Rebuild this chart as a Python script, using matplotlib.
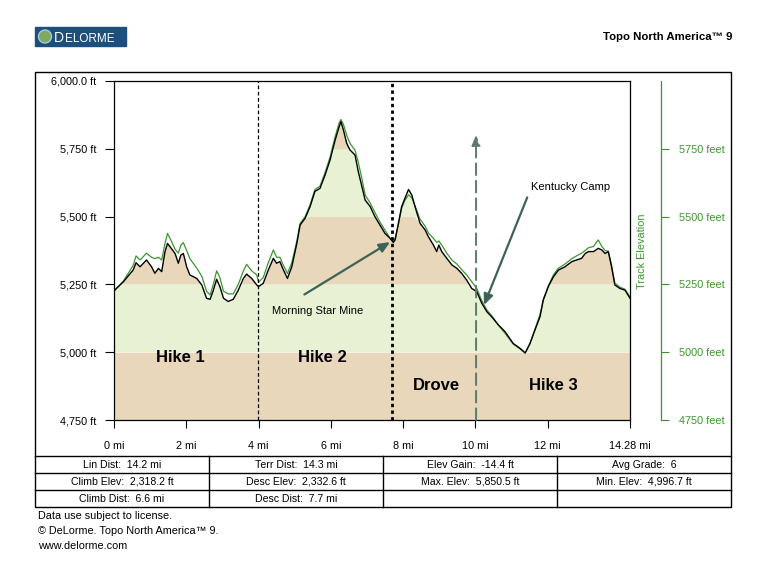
import numpy as np
import matplotlib
matplotlib.use("Agg")  # headless
import matplotlib.pyplot as plt
from matplotlib.patches import Rectangle, Circle

plt.rcParams['font.family'] = ['Liberation Sans', 'DejaVu Sans']

# Profile: distance (mi) and elevation (ft)
MILES = [0.00, 0.26, 0.53, 0.61, 0.72, 0.90, 1.04, 1.13, 1.23, 1.32, 1.41, 1.48, 1.55, 1.69,
         1.78, 1.85, 1.92, 2.01, 2.10, 2.29, 2.43, 2.56, 2.66, 2.75, 2.84, 2.93, 3.03, 3.16,
         3.30, 3.44, 3.58, 3.67, 3.81, 3.95, 4.00, 4.13, 4.27, 4.41, 4.50, 4.59, 4.69, 4.80,
         4.92, 5.06, 5.15, 5.29, 5.43, 5.56, 5.70, 5.84, 5.98, 6.12, 6.23, 6.28, 6.35, 6.44,
         6.53, 6.67, 6.76, 6.86, 6.95, 7.09, 7.22, 7.36, 7.50, 7.64, 7.73, 7.78, 7.87, 7.96,
         8.05, 8.15, 8.24, 8.33, 8.47, 8.61, 8.70, 8.84, 8.93, 8.99, 9.07, 9.21, 9.35, 9.49,
         9.62, 9.76, 9.90, 10.04, 10.18, 10.32, 10.45, 10.64, 10.82, 11.05, 11.24, 11.38, 11.51,
         11.65, 11.79, 11.88, 12.02, 12.16, 12.30, 12.48, 12.67, 12.80, 12.94, 13.04, 13.13,
         13.27, 13.40, 13.50, 13.59, 13.68, 13.77, 13.86, 14.00, 14.14, 14.28]

PROFILE_ELEV = [5226, 5260, 5303, 5330, 5315, 5340, 5315, 5291, 5309, 5297, 5370, 5401, 5389, 5364,
                5328, 5358, 5364, 5315, 5285, 5272, 5248, 5199, 5195, 5229, 5269, 5242, 5199, 5187,
                5195, 5229, 5272, 5288, 5272, 5248, 5242, 5254, 5303, 5346, 5328, 5334, 5303, 5272,
                5315, 5401, 5469, 5494, 5538, 5593, 5604, 5653, 5709, 5782, 5831, 5850, 5819, 5770,
                5746, 5727, 5666, 5611, 5561, 5537, 5500, 5469, 5438, 5420, 5405, 5414, 5475, 5537,
                5567, 5600, 5580, 5537, 5475, 5451, 5426, 5395, 5371, 5395, 5371, 5346, 5322, 5309,
                5291, 5266, 5235, 5223, 5180, 5149, 5131, 5100, 5076, 5032, 5014, 4997, 5032,
                5082, 5131, 5192, 5242, 5278, 5303, 5315, 5334, 5340, 5346, 5364, 5371,
                5371, 5383, 5377, 5364, 5371, 5315, 5248, 5235, 5229, 5199]

TRACK_ELEV = [5226, 5262, 5320, 5355, 5340, 5365, 5350, 5345, 5350, 5340, 5400, 5438, 5420, 5380,
              5365, 5395, 5404, 5375, 5345, 5310, 5280, 5225, 5211, 5250, 5300, 5275, 5225, 5215,
              5215, 5250, 5300, 5324, 5300, 5285, 5258, 5275, 5330, 5377, 5350, 5350, 5320, 5290,
              5330, 5410, 5475, 5500, 5545, 5600, 5612, 5662, 5720, 5795, 5845, 5858, 5840, 5800,
              5770, 5745, 5700, 5640, 5580, 5550, 5515, 5480, 5450, 5420, 5410, 5420, 5470, 5530,
              5560, 5580, 5570, 5540, 5490, 5465, 5440, 5420, 5405, 5410, 5395, 5365, 5340, 5325,
              5305, 5285, 5260, 5235, 5190, 5155, 5135, 5100, 5070, 5030, 5012, 4997, 5030,
              5085, 5140, 5195, 5245, 5285, 5310, 5325, 5345, 5355, 5365, 5375, 5385,
              5390, 5414, 5390, 5375, 5372, 5320, 5255, 5240, 5232, 5205]

BAND_EDGES = [4750, 5000, 5250, 5500, 5750, 6000]
LEFT_TICKS = [4750, 5000, 5250, 5500, 5750, 6000]
LEFT_LABELS = ["4,750 ft", "5,000 ft", "5,250 ft", "5,500 ft", "5,750 ft", "6,000.0 ft"]
RIGHT_TICKS = [4750, 5000, 5250, 5500, 5750]
X_TICKS = [0, 2, 4, 6, 8, 10, 12, 14.28]
X_LABELS = ["0 mi", "2 mi", "4 mi", "6 mi", "8 mi", "10 mi", "12 mi", "14.28 mi"]

# section markers (mi)
HIKE1_END = 3.99
HIKE2_END = 7.69
DROVE_END = 10.02

SECTIONS = [("Hike 1", 1.83, 4982), ("Hike 2", 5.76, 4982),
            ("Drove", 8.91, 4879), ("Hike 3", 12.15, 4879)]

STATS = [["Lin Dist:  14.2 mi", "Terr Dist:  14.3 mi", "Elev Gain:  -14.4 ft", "Avg Grade:  6"],
         ["Climb Elev:  2,318.2 ft", "Desc Elev:  2,332.6 ft", "Max. Elev:  5,850.5 ft", "Min. Elev:  4,996.7 ft"],
         ["Climb Dist:  6.6 mi", "Desc Dist:  7.7 mi", "", ""]]

TAN = "#e8d7bb"
PALE = "#e8f1d3"
GREEN = "#3c962e"
ARROW = "#3f6257"

W, H = 768, 572
fig = plt.figure(figsize=(W / 100, H / 100), dpi=100)

ax = fig.add_axes([114 / W, 152 / H, 516 / W, 339 / H])
x = np.array(MILES)
prof = np.array(PROFILE_ELEV)
for i in range(len(BAND_EDGES) - 1):
    lo, hi = BAND_EDGES[i], BAND_EDGES[i + 1]
    ax.fill_between(x, lo, np.minimum(prof, hi), where=prof > lo, interpolate=True,
                    color=TAN if i % 2 == 0 else PALE, lw=0, zorder=1)
ax.plot(MILES, TRACK_ELEV, color=GREEN, lw=0.9, zorder=3)
ax.plot(MILES, PROFILE_ELEV, color="black", lw=1.0, zorder=4)

ax.axvline(HIKE1_END, color="black", lw=0.9, ls=(0, (3, 2)), zorder=5)
ax.axvline(HIKE2_END, color="black", lw=2.0, ls=(0, (1.2, 1.2)), zorder=5)
ax.annotate("", xy=(DROVE_END, 5801), xytext=(DROVE_END, 4750),
            arrowprops=dict(arrowstyle="-|>,head_length=0.6,head_width=0.25", color="#5a7a6a",
                            lw=1.4, ls=(0, (6, 3)), shrinkA=0, shrinkB=0), zorder=5)

ax.annotate("Morning Star Mine", xy=(7.64, 5406), xytext=(4.37, 5152), fontsize=8,
            va="center", ha="left",
            arrowprops=dict(arrowstyle="-|>,head_length=0.8,head_width=0.35", color=ARROW,
                            lw=1.6, shrinkA=12, shrinkB=0, relpos=(0.15, 1.0)), zorder=6)
ax.annotate("Kentucky Camp", xy=(10.24, 5174), xytext=(11.54, 5609), fontsize=8,
            va="center", ha="left",
            arrowprops=dict(arrowstyle="-|>,head_length=0.8,head_width=0.35", color=ARROW,
                            lw=1.6, shrinkA=2, shrinkB=0, relpos=(0.0, 0.4)), zorder=6)

for name, sx, sy in SECTIONS:
    ax.text(sx, sy, name, fontsize=12, fontweight="bold", ha="center", va="center", zorder=6)

ax.set_xlim(0, 14.28)
ax.set_ylim(4750, 6000)
ax.set_xticks(X_TICKS)
ax.set_xticklabels(X_LABELS)
ax.set_yticks(LEFT_TICKS)
ax.set_yticklabels(LEFT_LABELS)
ax.tick_params(axis="x", direction="out", length=6, pad=9, labelsize=7.8)
ax.tick_params(axis="y", direction="out", length=6.5, pad=6, labelsize=7.8)
for s in ax.spines.values():
    s.set_linewidth(0.9)

ax2 = ax.twinx()
for side in ["top", "bottom", "left"]:
    ax2.spines[side].set_visible(False)
ax2.spines["right"].set_position(("outward", 22))
ax2.spines["right"].set_color(GREEN)
ax2.spines["right"].set_linewidth(0.9)
ax2.set_ylim(4750, 6000)
ax2.set_yticks(RIGHT_TICKS)
ax2.set_yticklabels([f"{v} feet" for v in RIGHT_TICKS])
ax2.tick_params(axis="y", direction="out", length=6, pad=7, colors=GREEN, labelsize=7.8)

# page overlay in pixel coordinates
page = fig.add_axes([0, 0, 1, 1], zorder=-1)
page.set_xlim(0, W)
page.set_ylim(H, 0)
page.axis("off")
page.add_patch(Rectangle((35, 72), 696, 435, fill=False, lw=1.0, ec="black"))
for yy in [456, 473, 490]:
    page.plot([35, 731], [yy, yy], color="black", lw=1.0)
for xx in [209, 383, 557]:
    page.plot([xx, xx], [456, 507], color="black", lw=1.0)
for r, row in enumerate(STATS):
    for c, txt in enumerate(row):
        page.text(122 + 174 * c, 465 + 17 * r, txt, fontsize=7.6, ha="center", va="center")

page.text(38, 516, "Data use subject to license.", fontsize=7.8, va="center")
page.text(38, 531, "© DeLorme. Topo North America™ 9.", fontsize=7.8, va="center")
page.text(38, 546, "www.delorme.com", fontsize=7.8, va="center")
page.text(732, 37, "Topo North America™ 9", fontsize=8.2, fontweight="bold", ha="right", va="center")
page.text(642, 251, "Track Elevation", fontsize=7.8, color=GREEN, rotation=90, ha="center", va="center")

# logo
page.add_patch(Rectangle((35, 27), 91, 19, color="#1d4f7c"))
page.add_patch(Circle((45, 36.5), 6.5, color="#7fa860", ec="#a8c8e0", lw=1))
page.text(54, 42, "D", fontsize=10, color="white", va="baseline")
page.text(65, 42, "ELORME", fontsize=8.5, color="white", va="baseline")

fig.savefig("out.png", dpi=100)
